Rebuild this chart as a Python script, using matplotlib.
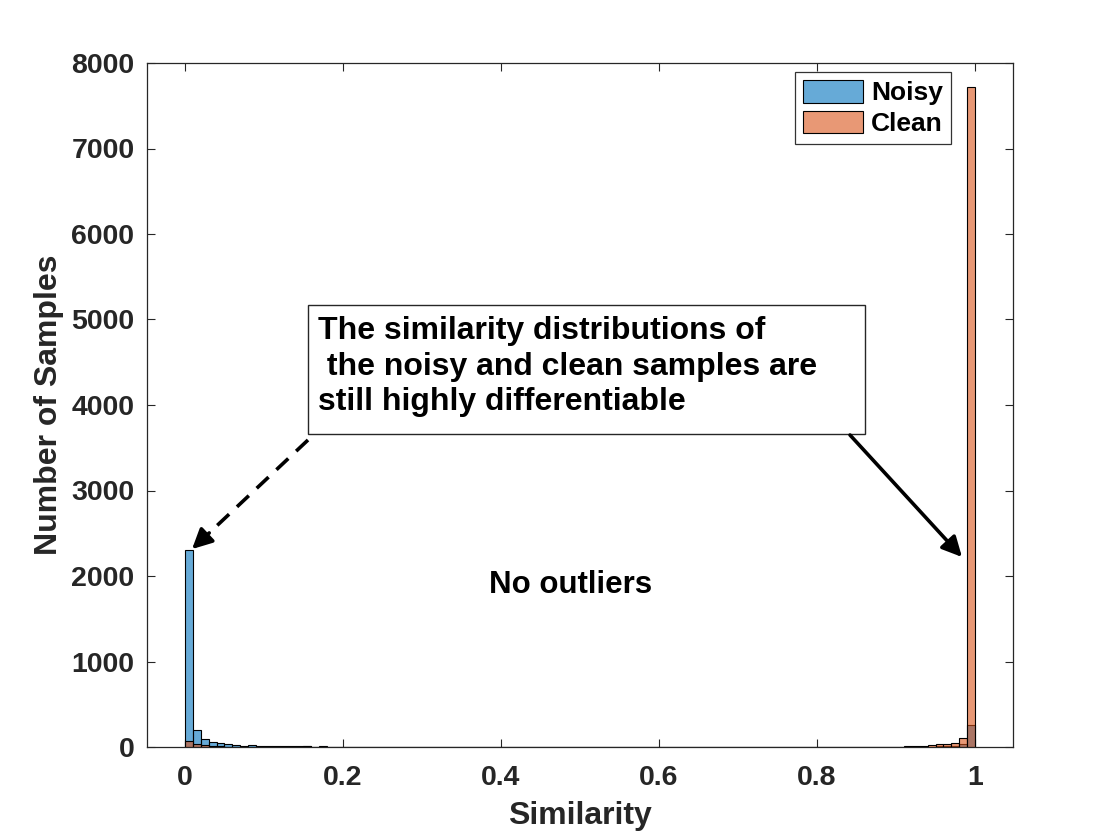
import numpy as np
import matplotlib
matplotlib.use("Agg")
import matplotlib.pyplot as plt
from matplotlib.patches import Rectangle, Patch, FancyArrowPatch
from matplotlib.lines import Line2D

# ---------------- data ----------------
bin_edges = np.linspace(0.0, 1.0, 101)
noisy_counts = [2300, 195, 97, 58, 45, 35, 25, 15, 20, 10,
                10, 8, 12, 8, 6, 8, 5, 6, 4, 3,
                3, 2, 2, 2, 2, 1, 1, 1, 1, 1,
                1, 1, 1, 1, 1, 0, 0, 0, 0, 0,
                0, 0, 0, 0, 0, 0, 0, 0, 0, 0,
                0, 0, 0, 0, 0, 0, 0, 0, 0, 0,
                0, 0, 0, 0, 0, 0, 0, 0, 0, 0,
                0, 0, 0, 0, 0, 0, 0, 0, 1, 1,
                1, 1, 1, 1, 1, 1, 1, 2, 2, 2,
                2, 3, 3, 4, 5, 6, 8, 10, 30, 257]
clean_counts = [74, 35, 18, 10, 6, 5, 4, 3, 3, 2,
                2, 2, 2, 2, 2, 8, 2, 2, 1, 1,
                1, 1, 1, 1, 1, 1, 1, 1, 1, 1,
                1, 1, 1, 1, 1, 1, 1, 1, 1, 1,
                1, 1, 1, 1, 1, 1, 1, 1, 1, 1,
                1, 1, 1, 1, 1, 1, 1, 1, 1, 1,
                1, 1, 1, 1, 1, 1, 1, 1, 1, 1,
                1, 1, 1, 1, 1, 1, 1, 1, 1, 1,
                1, 1, 1, 2, 2, 2, 2, 3, 3, 4,
                5, 12, 16, 16, 23, 31, 40, 51, 110, 7720]
series_names = ["Noisy", "Clean"]
x_ticks = [0, 0.2, 0.4, 0.6, 0.8, 1]
x_tick_labels = ["0", "0.2", "0.4", "0.6", "0.8", "1"]
y_ticks = [0, 1000, 2000, 3000, 4000, 5000, 6000, 7000, 8000]
annotation_text = ("The similarity distributions of\n"
                   " the noisy and clean samples are\n"
                   "still highly differentiable")
center_text = "No outliers"

# ---------------- style ----------------
plt.rcParams['font.family'] = ['Liberation Sans', 'DejaVu Sans']
plt.rcParams['font.weight'] = 'bold'
GRAY = (0.15, 0.15, 0.15)
BLUE = (0.0, 0.447, 0.741, 0.6)
ORANGE = (0.85, 0.325, 0.098, 0.6)

W, H = 1120, 840
fig = plt.figure(figsize=(W / 100, H / 100), dpi=100)
fig.patch.set_facecolor('white')
ax = fig.add_axes([147 / W, 1 - 747 / H, (1013 - 147) / W, (747 - 63) / H])

lefts = bin_edges[:-1]
width = bin_edges[1] - bin_edges[0]
ax.bar(lefts, noisy_counts, width=width, align='edge', color=BLUE,
       edgecolor='black', linewidth=0.8, label=series_names[0], zorder=2)
ax.bar(lefts, clean_counts, width=width, align='edge', color=ORANGE,
       edgecolor='black', linewidth=0.8, label=series_names[1], zorder=3)

ax.set_xlim(-0.048, 1.048)
ax.set_ylim(0, 8000)
ax.set_xticks(x_ticks)
ax.set_xticklabels(x_tick_labels)
ax.set_yticks(y_ticks)
ax.tick_params(direction='in', length=5.5, width=0.8, colors=GRAY,
               labelsize=20.5, top=True, right=True)
ax.tick_params(axis='x', pad=13)
ax.tick_params(axis='y', pad=9)
for lab in ax.get_xticklabels() + ax.get_yticklabels():
    lab.set_fontweight('bold')
for sp in ax.spines.values():
    sp.set_color(GRAY)
    sp.set_linewidth(0.9)

ax.set_xlabel("Similarity", fontsize=23, fontweight='bold', color=GRAY, labelpad=7)
ax.set_ylabel("Number of Samples", fontsize=23, fontweight='bold', color=GRAY, labelpad=5)

# legend
handles = [Patch(facecolor=BLUE, edgecolor='black', linewidth=0.8),
           Patch(facecolor=ORANGE, edgecolor='black', linewidth=0.8)]
leg = fig.legend(handles, series_names, loc='upper right',
                 bbox_to_anchor=(951 / W, 1 - 72 / H), borderaxespad=0,
                 fancybox=False, frameon=True,
                 prop={'weight': 'bold', 'size': 19},
                 handlelength=2.3, handleheight=0.95, handletextpad=0.3,
                 labelspacing=0.2, borderpad=0.3)
leg.get_frame().set_edgecolor('black')
leg.get_frame().set_linewidth(0.9)

# text box annotation (figure coordinates)
fig.patches.append(Rectangle((308 / W, 1 - 434 / H), (865 - 308) / W, (434 - 305) / H,
                             transform=fig.transFigure, facecolor='white',
                             edgecolor=GRAY, linewidth=1.0, zorder=5))
fig.text(318 / W, 1 - 316 / H, annotation_text, fontsize=23, fontweight='bold',
         color='black', ha='left', va='top', linespacing=1.24, zorder=6)

ax.text(0.4886, 1895, center_text, fontsize=22.5, fontweight='bold',
        color='black', ha='center', va='center', zorder=6)

# arrows (figure coordinates)
def fpt(px, py):
    return (px / W, 1 - py / H)

# dashed arrow to the noisy peak
s, e = fpt(308, 440), fpt(190, 551)
mid = (e[0] + (s[0] - e[0]) * 0.18, e[1] + (s[1] - e[1]) * 0.18)
fig.lines.append(Line2D([s[0], mid[0]], [s[1], mid[1]], transform=fig.transFigure,
                        color='black', linewidth=2.6, linestyle=(0, (4.5, 3)), zorder=6))
fig.patches.append(FancyArrowPatch(mid, e, transform=fig.transFigure,
                                   arrowstyle='-|>,head_length=12,head_width=6',
                                   mutation_scale=1, color='black', linewidth=2.6, zorder=6))
# solid arrow to the clean peak
s, e = fpt(850, 435), fpt(962, 557)
fig.patches.append(FancyArrowPatch(s, e, transform=fig.transFigure,
                                   arrowstyle='-|>,head_length=12,head_width=6',
                                   mutation_scale=1, color='black', linewidth=2.6,
                                   shrinkA=0, shrinkB=0, zorder=6))

fig.savefig("out.png", dpi=100, facecolor='white')
